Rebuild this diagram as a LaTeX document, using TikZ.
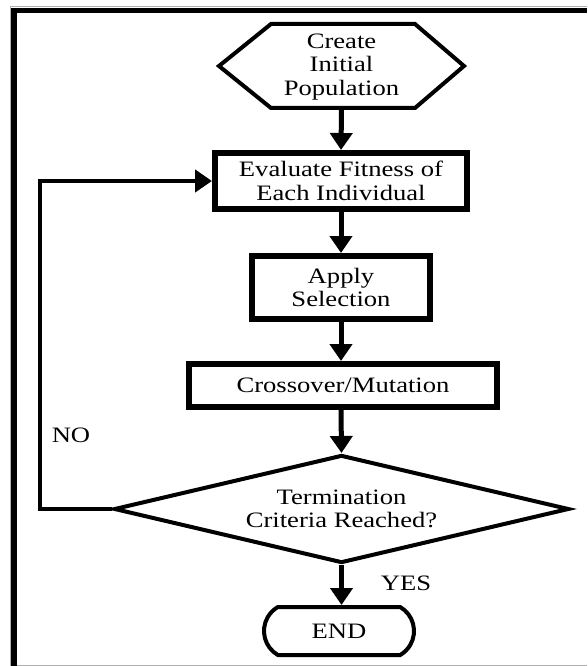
\documentclass[tikz,border=0pt]{standalone}
\usepackage{fontspec}
\setmainfont{Liberation Serif}[FakeStretch=1.21]
\usetikzlibrary{arrows.meta,shapes.geometric,shapes.misc}
\begin{document}
\begin{tikzpicture}[x=1pt,y=-1pt,
  txt/.style={font=\fontsize{22}{23.5}\selectfont, align=center, inner sep=0pt},
  box/.style={txt, draw, line width=6pt},
  flow/.style={line width=5pt, -{Triangle[width=22pt,length=17pt]}},
  frameline/.style={line width=5.5pt},
  hairline/.style={draw=black!30, line width=1pt}]
\useasboundingbox[fill=white] (0,0) rectangle (587,666);
% outer frame
\draw[hairline] (10,666) -- (10,6.5) -- (587,6.5);
\draw[hairline] (10,665.5) -- (587,665.5);
\draw[frameline] (14,666) -- (14,10.5) -- (587,10.5);
% nodes
\node[txt, minimum width=245pt, minimum height=84pt] (create) at (341.5,67) {Create\\Initial\\Population};
\draw[line width=4pt, line join=miter] (219,66) -- (271,24) -- (415,24) -- (464,66) -- (415,108) -- (271,108) -- cycle;
\node[box, minimum width=252pt, minimum height=56pt] (eval) at (341,181) {Evaluate Fitness of\\Each Individual};
\node[box, minimum width=178pt, minimum height=63pt] (apply) at (341,287.5) {Apply\\Selection};
\node[box, minimum width=308pt, minimum height=43pt] (cross) at (343,385.5) {Crossover/Mutation};
\node[txt, draw, diamond, line width=4pt, line join=miter, shape aspect=4.2, minimum width=455pt, minimum height=108pt] (dec) at (341.5,509) {Termination\\Criteria Reached?};
\node[txt, draw, rounded rectangle, rounded rectangle arc length=120, line width=4pt, minimum width=150pt, minimum height=48pt] (end) at (339,631) {END};
\node[txt] (no) at (71,435) {NO};
\node[txt] (yes) at (406,583) {YES};
\coordinate (turn) at (40,509);
% connectors
\draw[flow] (create.south) -- (eval.north);
\draw[flow] (eval.south -| apply.north) -- (apply.north);
\draw[flow] (apply.south) -- (apply.south |- cross.north);
\draw[flow] (apply.south |- cross.south) -- (dec.north);
\draw[flow] (dec.south) -- (end.north -| dec.south);
\draw[flow, line width=4.5pt] (dec.west) -- (turn) |- (eval.west);
\end{tikzpicture}
\end{document}
